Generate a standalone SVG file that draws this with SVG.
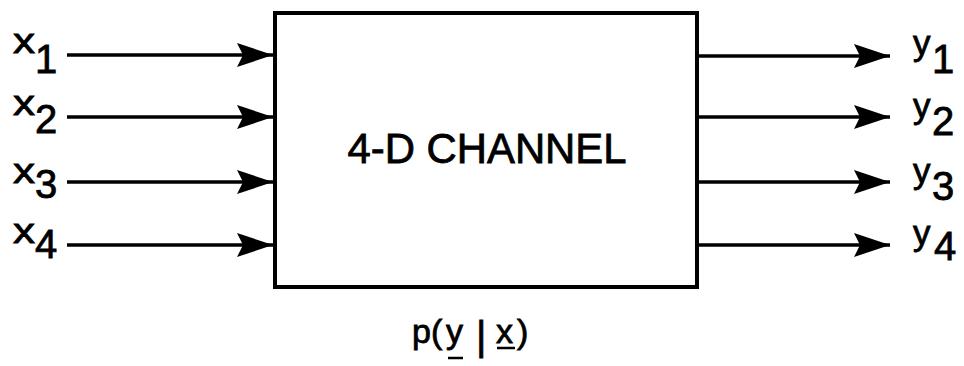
<svg xmlns="http://www.w3.org/2000/svg" width="964" height="366" viewBox="0 0 964 366">
<style>
.lbl{font-family:"Liberation Sans",Arial,sans-serif;fill:#000;stroke:#000;stroke-width:0.8}
.base{font-size:35px}
.sub{font-size:40px}
.title{font-size:42px;stroke-width:0.8}
.conn line{stroke:#000;stroke-width:3.5}
.head{fill:#000}
</style>
<defs>
<marker id="ah" markerUnits="userSpaceOnUse" markerWidth="38" markerHeight="26" refX="36" refY="12" orient="auto" viewBox="0 0 38 26">
<path class="head" d="M0,0 L36,12 L0,24 L6,12 Z"/>
</marker>
</defs>
<rect width="964" height="366" fill="#fff"/>
<g id="channel">
<rect x="275" y="13" width="422" height="274" fill="#fff" stroke="#000" stroke-width="4"/>
<text class="lbl title" x="487" y="163" text-anchor="middle" textLength="279" lengthAdjust="spacingAndGlyphs">4-D CHANNEL</text>
</g>
<g id="pyx">
<text class="lbl" font-size="34" x="412" y="343">p(</text>
<text class="lbl" font-size="34" x="446" y="343">y</text>
<text class="lbl" font-size="40" x="476" y="350">|</text>
<text class="lbl" font-size="34" x="496" y="343">x</text>
<text class="lbl" font-size="34" x="517" y="343">)</text>
<line x1="448" y1="358" x2="463" y2="358" stroke="#000" stroke-width="2.5"/>
<line x1="497" y1="348" x2="515" y2="348" stroke="#000" stroke-width="2.5"/>
</g>
<g id="x1"><text class="lbl base" x="13" y="53" textLength="22" lengthAdjust="spacingAndGlyphs">x</text><text class="lbl sub" x="35" y="73">1</text></g>
<g id="x2"><text class="lbl base" x="13" y="115" textLength="22" lengthAdjust="spacingAndGlyphs">x</text><text class="lbl sub" x="35" y="133">2</text></g>
<g id="x3"><text class="lbl base" x="13" y="183" textLength="22" lengthAdjust="spacingAndGlyphs">x</text><text class="lbl sub" x="35" y="198">3</text></g>
<g id="x4"><text class="lbl base" x="13" y="243" textLength="22" lengthAdjust="spacingAndGlyphs">x</text><text class="lbl sub" x="35" y="258">4</text></g>
<g id="y1"><text class="lbl base" x="913" y="55">y</text><text class="lbl sub" x="932" y="73">1</text></g>
<g id="y2"><text class="lbl base" x="913" y="118">y</text><text class="lbl sub" x="932" y="135">2</text></g>
<g id="y3"><text class="lbl base" x="913" y="183">y</text><text class="lbl sub" x="932" y="200">3</text></g>
<g id="y4"><text class="lbl base" x="913" y="245">y</text><text class="lbl sub" x="934" y="260">4</text></g>
<g class="conn" id="connectors">
<line x1="67" y1="55" x2="273" y2="55" marker-end="url(#ah)"/>
<line x1="67" y1="117" x2="273" y2="117" marker-end="url(#ah)"/>
<line x1="67" y1="182" x2="273" y2="182" marker-end="url(#ah)"/>
<line x1="67" y1="245" x2="273" y2="245" marker-end="url(#ah)"/>
<line x1="697" y1="56" x2="890" y2="56" marker-end="url(#ah)"/>
<line x1="697" y1="117" x2="890" y2="117" marker-end="url(#ah)"/>
<line x1="697" y1="182" x2="890" y2="182" marker-end="url(#ah)"/>
<line x1="697" y1="245" x2="890" y2="245" marker-end="url(#ah)"/>
</g>
</svg>
